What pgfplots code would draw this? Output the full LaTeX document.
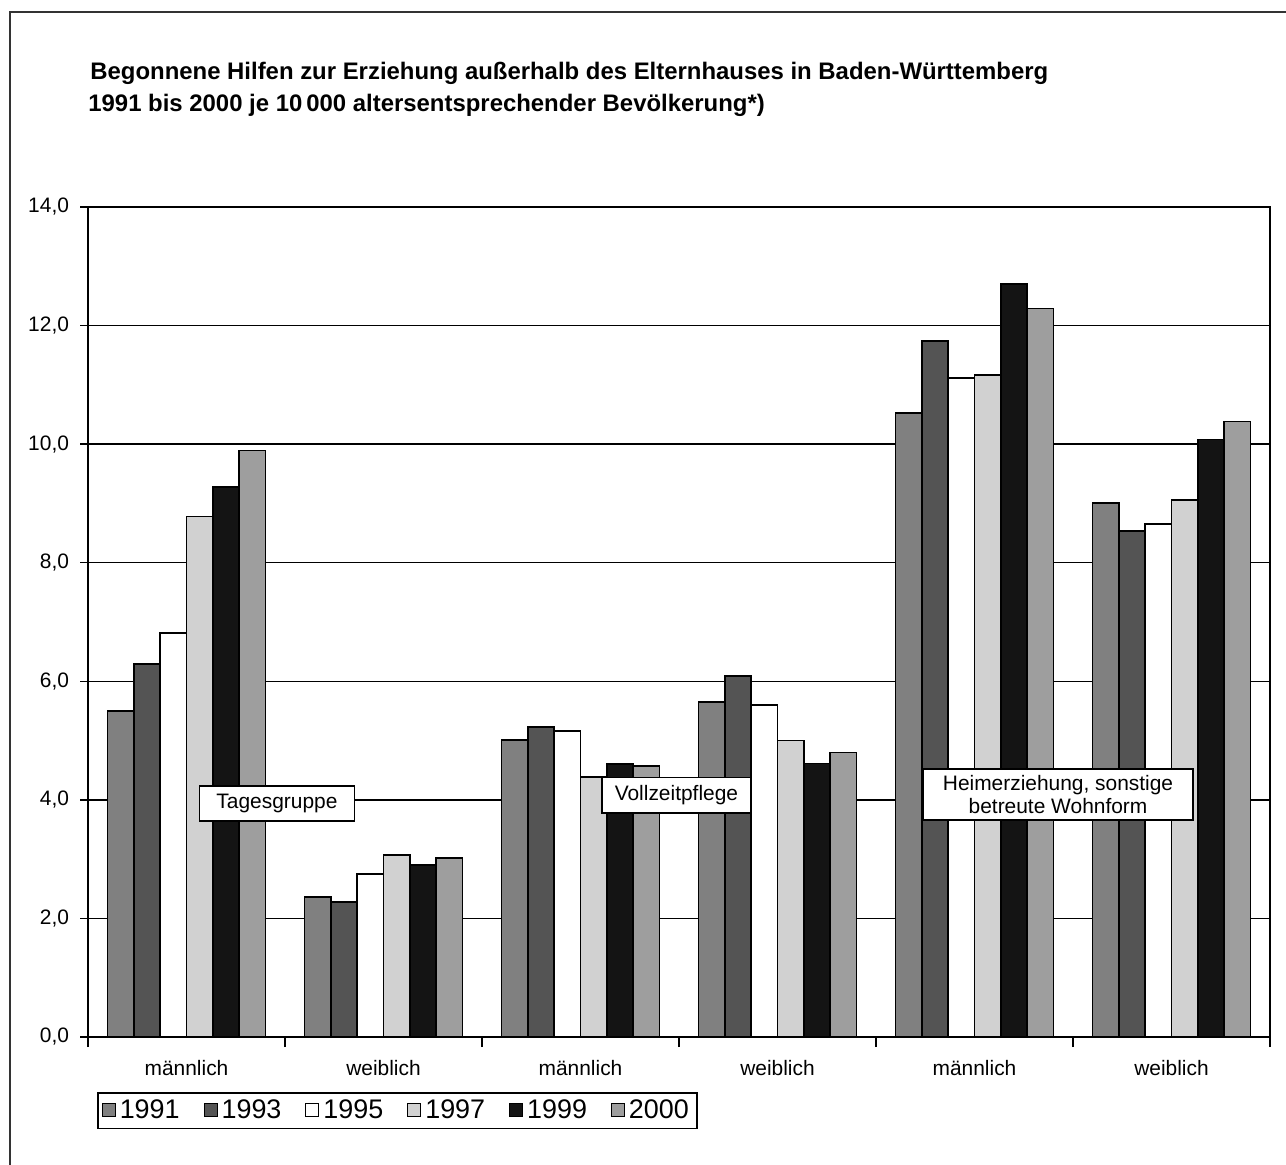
\documentclass[border=0pt]{standalone}
\usepackage{fontspec}
\setmainfont{Liberation Sans}
\usepackage{pgfplots}
\pgfplotsset{compat=1.18}
\usetikzlibrary{patterns}

\definecolor{cA}{gray}{0.50}
\definecolor{cB}{gray}{0.33}
\definecolor{cC}{gray}{1.00}
\definecolor{cD}{gray}{0.82}
\definecolor{cE}{gray}{0.08}
\definecolor{cF}{gray}{0.62}

\begin{document}
\begin{tikzpicture}
\useasboundingbox (-44bp,-64bp) rectangle (599bp,518.5bp);
\begin{axis}[
  scale only axis, width=591bp, height=415bp,
  xmin=-0.5, xmax=5.5, ymin=0, ymax=14,
  ybar=0pt, bar width=13.15bp,
  axis line style={line width=1bp},
  ytick={0,2,...,14},
  yticklabel={\pgfmathprintnumber[fixed,fixed zerofill,precision=1,use comma,assume math mode=true]{\tick}},
  ymajorgrids, grid style={black, line width=0.7bp},
  tick align=outside, xtick pos=bottom, ytick pos=left,
  major tick length=4bp, minor tick length=5bp,
  xtick={0,...,5},
  xticklabels={männlich,weiblich,männlich,weiblich,männlich,weiblich},
  xtick style={draw=none},
  minor xtick={-0.5,0.5,...,5.5},
  minor x tick style={draw=black, line width=0.7bp},
  ytick style={draw=black, line width=0.7bp},
  tick label style={font=\fontsize{10.5}{12}\selectfont},
  xticklabel style={yshift=-4bp},
  yticklabel style={xshift=-2bp},
  legend columns=6,
  legend style={at={(0.0076,-0.0663)}, anchor=north west, draw=black, line width=0.8bp,
    font=\fontsize{13.5}{15}\selectfont, inner xsep=2bp, inner ysep=1.5bp,
    nodes={inner xsep=2bp, inner ysep=2bp},
    /tikz/every even column/.append style={column sep=10bp}},
  legend image code/.code={\draw[#1, line width=0.5bp] (0bp,-3bp) rectangle (6.5bp,3.5bp);},
]
\addplot[fill=cA, draw=black, line width=0.8bp] coordinates {(0,5.50) (1,2.36) (2,5.01) (3,5.65) (4,10.53) (5,9.01)};
\addplot[fill=cB, draw=black, line width=0.8bp] coordinates {(0,6.29) (1,2.28) (2,5.23) (3,6.09) (4,11.74) (5,8.53)};
\addplot[fill=cC, draw=black, line width=0.8bp] coordinates {(0,6.81) (1,2.75) (2,5.16) (3,5.60) (4,11.12) (5,8.65)};
\addplot[fill=cD, draw=black, line width=0.8bp] coordinates {(0,8.78) (1,3.07) (2,4.39) (3,5.00) (4,11.17) (5,9.06)};
\addplot[fill=cE, draw=black, line width=0.8bp] coordinates {(0,9.28) (1,2.90) (2,4.60) (3,4.61) (4,12.70) (5,10.08)};
\addplot[fill=cF, draw=black, line width=0.8bp] coordinates {(0,9.89) (1,3.02) (2,4.57) (3,4.80) (4,12.29) (5,10.38)};
\legend{1991,1993,1995,1997,1999,2000}
\node[draw=black, line width=0.8bp, fill=white, inner xsep=8.5bp, inner ysep=4bp,
  font=\fontsize{10.5}{12}\selectfont] at (axis cs:0.459,3.94) {Tagesgruppe};
\node[draw=black, line width=0.8bp, fill=white, inner xsep=6.5bp, inner ysep=4bp,
  font=\fontsize{10.5}{12}\selectfont] at (axis cs:2.487,4.08) {Vollzeitpflege};
\node[draw=black, line width=0.8bp, fill=white, inner xsep=10bp, inner ysep=3bp, align=center,
  font=\fontsize{10.5}{12}\selectfont] at (axis cs:4.424,4.09) {Heimerziehung, sonstige\\betreute Wohnform};
\end{axis}
\node[anchor=base west, inner sep=0pt, font=\bfseries\fontsize{12}{14}\selectfont] at (1bp,478.5bp)
  {Begonnene Hilfen zur Erziehung außerhalb des Elternhauses in Baden-Württemberg};
\node[anchor=base west, inner sep=0pt, font=\bfseries\fontsize{12}{14}\selectfont] at (0bp,462.5bp)
  {1991 bis 2000 je 10\,000 altersentsprechender Bevölkerung*)};
\draw[line width=0.8bp, black!80] (-39bp,-64bp) -- (-39bp,512.5bp) -- (599bp,512.5bp);
\end{tikzpicture}
\end{document}
